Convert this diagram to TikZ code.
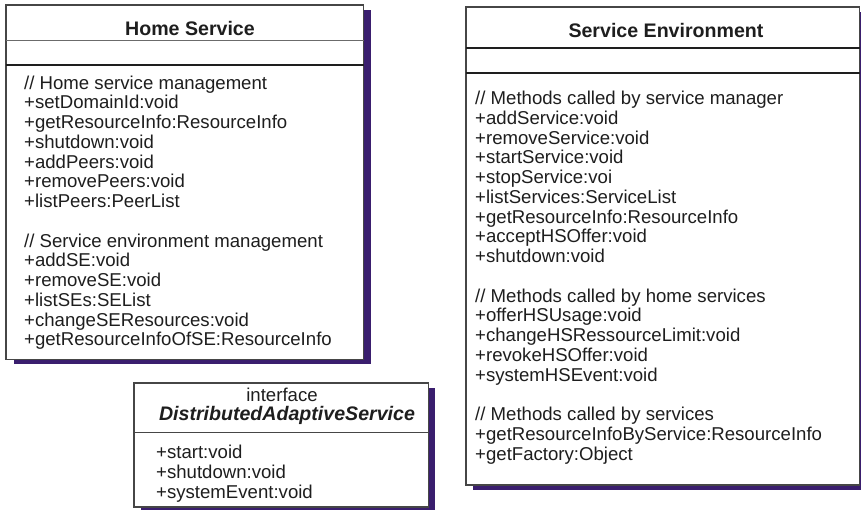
\documentclass[tikz,border=0pt]{standalone}
\usepackage{fontspec}
\setmainfont{Liberation Sans}
\definecolor{shadowc}{RGB}{58,30,110}
\definecolor{linec}{RGB}{70,70,70}
\definecolor{textc}{RGB}{30,30,30}
\tikzset{
  shadowbox/.style={fill=shadowc, draw=none},
  classbox/.style={fill=white, draw=linec, line width=1.2pt},
  thinsep/.style={draw=linec!80, line width=1pt},
  thicksep/.style={draw=textc, line width=2pt},
  body/.style={anchor=north west, inner sep=0pt, align=left, text=textc,
    font=\fontsize{18.6}{19.75}\selectfont},
  title/.style={inner sep=0pt, text=textc, font=\fontsize{19.6}{20}\selectfont\bfseries},
}
\begin{document}
\begin{tikzpicture}[x=1pt,y=-1pt]
\useasboundingbox (0,0) rectangle (861,509);
% Home Service
\path[shadowbox] (13.5,9.5) rectangle (371,364);
\path[classbox] (6,5) rectangle (363.5,359.5);
\draw[thinsep] (6,40) -- (363.5,40);
\draw[thicksep] (6,64.5) -- (363.5,64.5);
\node[title] (hstitle) at (190,28) {Home Service};
\node[body] (hsbody) at (24,75.5) {// Home service management\\
+setDomainId:void\\
+getResourceInfo:ResourceInfo\\
+shutdown:void\\
+addPeers:void\\
+removePeers:void\\
+listPeers:PeerList\\[19.75pt]
// Service environment management\\
+addSE:void\\
+removeSE:void\\
+listSEs:SEList\\
+changeSEResources:void\\
+getResourceInfoOfSE:ResourceInfo};
% Service Environment
\path[shadowbox] (473,12) rectangle (867,490);
\path[classbox] (466,7) rectangle (859.5,485);
\draw[thicksep] (466,48) -- (859.5,48);
\draw[thicksep] (466,72.5) -- (859.5,72.5);
\node[title] (setitle) at (666,30) {Service Environment};
\node[body] (sebody) at (475,91) {// Methods called by service manager\\
+addService:void\\
+removeService:void\\
+startService:void\\
+stopService:voi\\
+listServices:ServiceList\\
+getResourceInfo:ResourceInfo\\
+acceptHSOffer:void\\
+shutdown:void\\[19.75pt]
// Methods called by home services\\
+offerHSUsage:void\\
+changeHSRessourceLimit:void\\
+revokeHSOffer:void\\
+systemHSEvent:void\\[19.75pt]
// Methods called by services\\
+getResourceInfoByService:ResourceInfo\\
+getFactory:Object};
% Interface
\path[shadowbox] (141,388) rectangle (434.5,515);
\path[classbox] (134,383) rectangle (428.5,507);
\draw[linec, line width=1pt] (134,432) -- (428.5,432);
\node[inner sep=0pt, text=textc, font=\fontsize{18.6}{20}\selectfont] (iflabel) at (282,395) {interface};
\node[title] (ifname) at (287,415) {\itshape DistributedAdaptiveService};
\node[body] (ifbody) at (156,445) {+start:void\\
+shutdown:void\\
+systemEvent:void};
\end{tikzpicture}
\end{document}
